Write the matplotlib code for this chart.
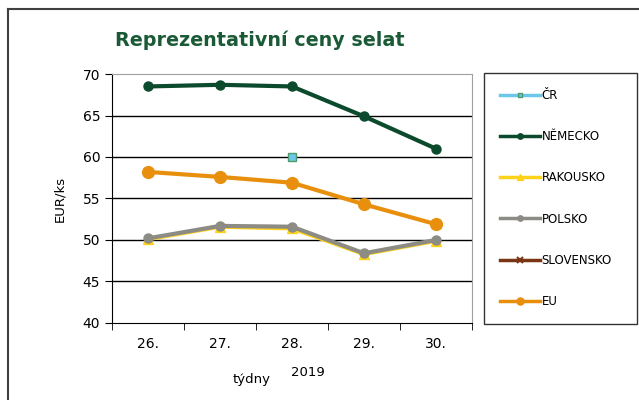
import numpy as np
import matplotlib
matplotlib.use("Agg")
from matplotlib import pyplot
from matplotlib.lines import Line2D

# data
weeks = ["26.", "27.", "28.", "29.", "30."]
nan = np.nan
cr = [nan, nan, 60.0, nan, nan]
nemecko = [68.5, 68.7, 68.5, 64.9, 61.0]
rakousko = [50.1, 51.6, 51.4, 48.3, 49.9]
polsko = [50.2, 51.7, 51.6, 48.4, 50.0]
slovensko = [nan, nan, nan, nan, nan]
eu = [58.2, 57.6, 56.9, 54.3, 51.9]

fig = pyplot.figure(figsize=(6.39, 4.0), dpi=100)
ax = fig.add_axes([112 / 639, 1 - 323 / 400, 360 / 639, 249 / 400])

x = np.arange(len(weeks))
ax.plot(x, cr, color="#6cc8ea", marker="s", ms=6, mfc="#6cc8ea", mec="#4f9a6a",
        lw=2, label="ČR")
ax.plot(x, nemecko, color="#0b4a2c", marker="o", ms=6.5, lw=3, label="NĚMECKO")
ax.plot(x, rakousko, color="#ffd21a", marker="^", ms=6.5, lw=3, label="RAKOUSKO")
ax.plot(x, polsko, color="#8c8c84", marker="o", ms=6.5, lw=3, label="POLSKO")
ax.plot(x, slovensko, color="#7a3512", marker="x", ms=7, mew=1.5, lw=3,
        label="SLOVENSKO")
ax.plot(x, eu, color="#e8900e", marker="o", ms=8.5, lw=3, label="EU")

ax.set_xlim(-0.5, 4.5)
ax.set_ylim(40, 70)
ax.set_yticks(range(40, 71, 5))
ax.set_xticks(x)
ax.set_xticklabels(weeks, fontsize=10)
ax.set_xticks(np.arange(-0.5, 5, 1), minor=True)
ax.tick_params(axis="x", which="major", length=0, pad=10)
ax.tick_params(axis="x", which="minor", length=5, color="black")
ax.tick_params(axis="y", labelsize=10, length=5, color="black")
for yv in range(45, 70, 5):
    ax.axhline(yv, color="black", lw=1, zorder=0)
for s in ["top", "right"]:
    ax.spines[s].set_color("#a0a0a0")
ax.spines["left"].set_color("black")
ax.spines["bottom"].set_color("black")

ax.set_ylabel("EUR/ks", fontsize=9.5, labelpad=12)
fig.text(252 / 639, 1 - 379 / 400, "týdny", fontsize=9.5, ha="center", va="center")
fig.text(308 / 639, 1 - 373 / 400, "2019", fontsize=9.5, ha="center", va="center")
fig.text(115 / 639, 1 - 40 / 400, "Reprezentativní ceny selat", fontsize=13.8,
         fontweight="bold", color="#1a5a36", va="center")

leg = fig.legend(loc="upper left",
                 bbox_to_anchor=(484 / 639, 1 - 322 / 400, 153 / 639, 249 / 400),
                 mode="expand", frameon=True, fancybox=False, edgecolor="black",
                 fontsize=8.5, labelspacing=2.38, handlelength=3.4,
                 handletextpad=0.1, borderpad=1.38, borderaxespad=0,
                 markerscale=0.6)
leg.get_frame().set_linewidth(1)
for h in leg.get_lines():
    h.set_linewidth(2.5)

# chart area frame (top and left edges only visible)
fig.add_artist(Line2D([8 / 639, 1], [1 - 9 / 400, 1 - 9 / 400],
                      transform=fig.transFigure, color="#404040", lw=1.5))
fig.add_artist(Line2D([8 / 639, 8 / 639], [0, 1 - 9 / 400],
                      transform=fig.transFigure, color="#404040", lw=1.5))

fig.savefig("out.png", dpi=100)
